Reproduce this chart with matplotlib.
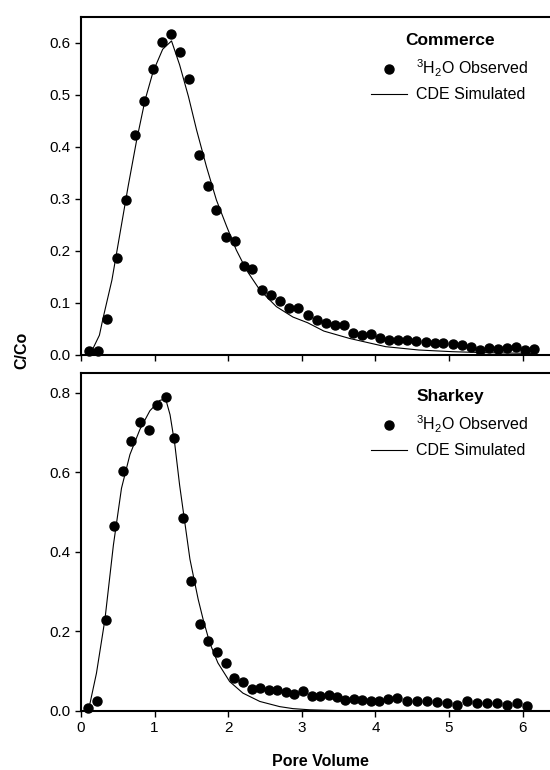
import matplotlib
matplotlib.use("Agg")
import matplotlib.pyplot as plt

plt.rcParams['font.family'] = ['Liberation Sans', 'DejaVu Sans']
plt.rcParams['mathtext.fontset'] = 'custom'
plt.rcParams['mathtext.rm'] = 'Liberation Sans'

# Commerce soil - observed tritium breakthrough
com_pv = [0.113, 0.235, 0.357, 0.484, 0.606, 0.733, 0.855, 0.981, 1.103, 1.226,
          1.352, 1.474, 1.597, 1.719, 1.841, 1.967, 2.090, 2.210, 2.330, 2.460,
          2.585, 2.707, 2.833, 2.955, 3.081, 3.203, 3.325, 3.447, 3.568, 3.695,
          3.816, 3.938, 4.065, 4.186, 4.313, 4.434, 4.556, 4.682, 4.804, 4.925,
          5.052, 5.174, 5.296, 5.418, 5.544, 5.666, 5.788, 5.909, 6.036, 6.157]
com_obs = [0.008, 0.008, 0.070, 0.186, 0.298, 0.424, 0.489, 0.550, 0.601, 0.617,
           0.582, 0.531, 0.385, 0.325, 0.278, 0.226, 0.219, 0.172, 0.165, 0.125,
           0.116, 0.104, 0.090, 0.090, 0.076, 0.067, 0.062, 0.057, 0.058, 0.042,
           0.039, 0.041, 0.032, 0.029, 0.029, 0.028, 0.027, 0.025, 0.024, 0.023,
           0.022, 0.020, 0.016, 0.010, 0.013, 0.012, 0.013, 0.015, 0.010, 0.011]

# Commerce - CDE simulated
com_sim_pv = [0.12, 0.25, 0.30, 0.42, 0.53, 0.64, 0.756, 0.87, 0.98, 1.11,
              1.23, 1.34, 1.46, 1.57, 1.705, 1.84, 1.98, 2.11, 2.25, 2.43,
              2.655, 2.88, 3.08, 3.30, 3.645, 4.14, 4.59, 5.04, 5.49, 6.17]
com_sim = [0.0, 0.038, 0.071, 0.144, 0.234, 0.324, 0.413, 0.49, 0.545, 0.588,
           0.604, 0.558, 0.497, 0.433, 0.362, 0.298, 0.247, 0.202, 0.163, 0.125,
           0.093, 0.073, 0.062, 0.046, 0.032, 0.016, 0.0096, 0.0064, 0.0045, 0.003]

# Sharkey soil - observed tritium breakthrough
sha_pv = [0.100, 0.217, 0.335, 0.448, 0.565, 0.683, 0.800, 0.918, 1.030, 1.149,
          1.266, 1.384, 1.500, 1.620, 1.730, 1.850, 1.970, 2.080, 2.200, 2.320,
          2.430, 2.555, 2.662, 2.779, 2.892, 3.014, 3.135, 3.248, 3.366, 3.478,
          3.591, 3.713, 3.825, 3.943, 4.056, 4.173, 4.290, 4.434, 4.570, 4.705,
          4.840, 4.976, 5.110, 5.246, 5.382, 5.517, 5.652, 5.788, 5.923, 6.058]
sha_obs = [0.007, 0.024, 0.228, 0.464, 0.603, 0.680, 0.727, 0.707, 0.769, 0.790,
           0.686, 0.485, 0.328, 0.218, 0.176, 0.148, 0.120, 0.082, 0.074, 0.056,
           0.058, 0.052, 0.052, 0.048, 0.043, 0.051, 0.037, 0.037, 0.039, 0.035,
           0.028, 0.031, 0.027, 0.024, 0.025, 0.030, 0.032, 0.024, 0.024, 0.024,
           0.023, 0.020, 0.014, 0.024, 0.021, 0.021, 0.019, 0.014, 0.019, 0.0135]

# Sharkey - CDE simulated
sha_sim_pv = [0.10, 0.21, 0.325, 0.44, 0.55, 0.665, 0.80, 0.936, 1.07, 1.15,
              1.21, 1.275, 1.34, 1.41, 1.48, 1.592, 1.66, 1.75, 1.86, 2.02,
              2.20, 2.43, 2.70, 2.88, 3.11, 3.5, 4.0, 6.1]
sha_sim = [0.0, 0.095, 0.23, 0.417, 0.56, 0.645, 0.708, 0.755, 0.781, 0.785,
           0.745, 0.67, 0.568, 0.475, 0.382, 0.281, 0.230, 0.171, 0.121, 0.074,
           0.045, 0.024, 0.011, 0.006, 0.003, 0.001, 0.0, 0.0]

obs_label = r'$^{3}$H$_{2}$O Observed'
sim_label = 'CDE Simulated'

fig = plt.figure(figsize=(5.5, 7.7), dpi=100)

left = 81 / 550
width = (552 - 81) / 550
ax1 = fig.add_axes([left, 1 - 355 / 770, width, 338 / 770])
ax2 = fig.add_axes([left, 1 - 711 / 770, width, 338 / 770])

panels = [
    (ax1, com_pv, com_obs, com_sim_pv, com_sim, 'Commerce', 0.65, [0, 0.1, 0.2, 0.3, 0.4, 0.5, 0.6]),
    (ax2, sha_pv, sha_obs, sha_sim_pv, sha_sim, 'Sharkey', 0.85, [0, 0.2, 0.4, 0.6, 0.8]),
]

for ax, px, py, sx, sy, name, ytop, yticks in panels:
    ax.plot(px, py, 'o', color='black', markersize=6.5, label=obs_label, clip_on=False, zorder=3)
    ax.plot(sx, sy, '-', color='black', linewidth=0.8, label=sim_label)
    ax.set_xlim(0, 6.4)
    ax.set_ylim(0, ytop)
    ax.set_xticks([0, 1, 2, 3, 4, 5, 6])
    ax.set_yticks(yticks)
    ax.yaxis.set_major_formatter(matplotlib.ticker.FormatStrFormatter('%.1f'))
    for sp in ax.spines.values():
        sp.set_linewidth(1.5)
    ax.tick_params(direction='out', length=4, width=1, labelsize=11)
    leg = ax.legend(loc='upper right', bbox_to_anchor=(0.974, 0.985), frameon=False,
                    fontsize=11.5, title=name, handlelength=2.2, handletextpad=0.6,
                    labelspacing=0.5, borderpad=0.2,
                    title_fontproperties={'weight': 'bold', 'size': 12.5})
    leg._legend_box.sep = 7

ax1.tick_params(labelbottom=False)

fig.text(22 / 550, 1 - 350 / 770, 'C/Co', rotation=90, ha='center', va='center',
         fontsize=11.5, fontweight='bold')
fig.text(320 / 550, 1 - 762 / 770, 'Pore Volume', ha='center', va='center',
         fontsize=11.5, fontweight='bold')

fig.savefig('out.png', dpi=100)
